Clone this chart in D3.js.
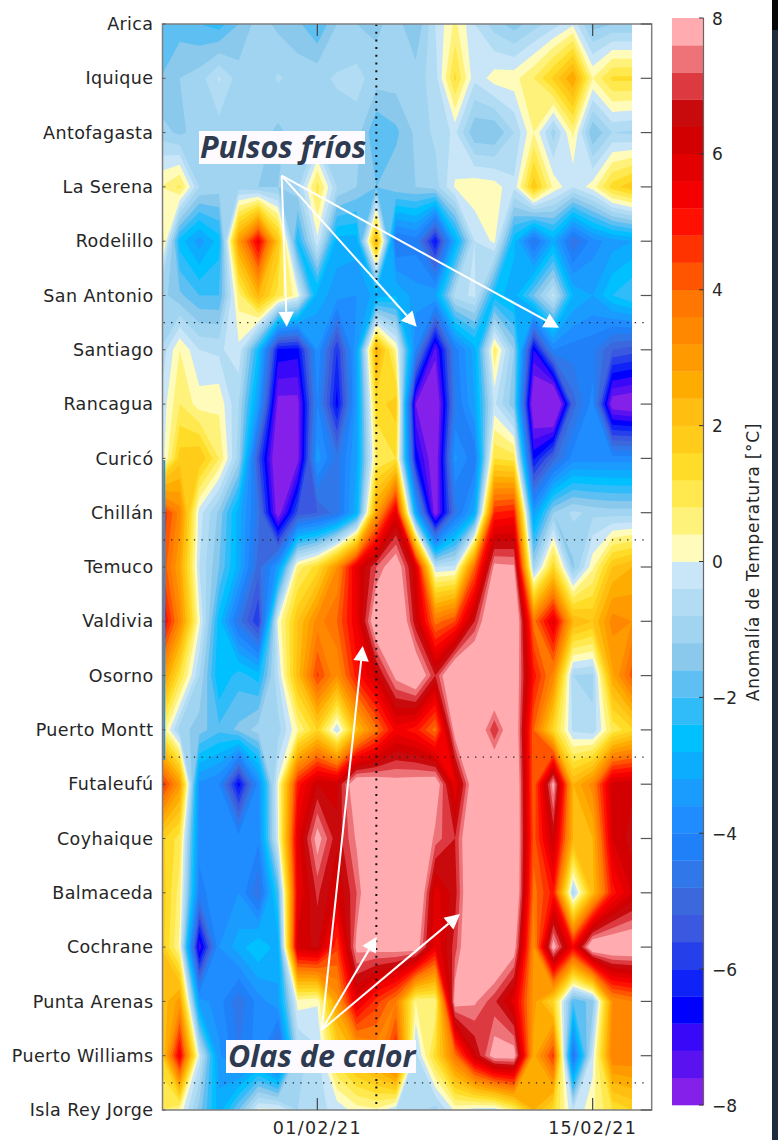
<!DOCTYPE html>
<html>
<head>
<meta charset="utf-8">
<script src="https://cdn.jsdelivr.net/npm/d3@7"></script>
<style>
  html, body { margin: 0; padding: 0; background: #fff; }
  svg { display: block; }
  text { font-family: "DejaVu Sans", sans-serif; fill: #262626; }
  .note { font-family: "Open Sans", sans-serif; font-weight: 700; font-style: italic; fill: #2d3a50; }
</style>
</head>
<body>
<svg id="chart" width="778" height="1140"></svg>
<script>
var stations = ["Arica", "Iquique", "Antofagasta", "La Serena", "Rodelillo", "San Antonio", "Santiago",
  "Rancagua", "Curicó", "Chillán", "Temuco", "Valdivia", "Osorno", "Puerto Montt", "Futaleufú",
  "Coyhaique", "Balmaceda", "Cochrane", "Punta Arenas", "Puerto Williams", "Isla Rey Jorge"];

var firstDay = new Date(2021, 0, 24);
var lastDay = new Date(2021, 1, 17);
var tickDays = [new Date(2021, 1, 1), new Date(2021, 1, 15)];
var tickLabels = ["01/02/21", "15/02/21"];
var barTicks = [-8, -6, -4, -2, 0, 2, 4, 6, 8];
var zoneBreaks = [5.5, 9.5, 13.5, 19.5]; //between stations
var eventDay = new Date(2021, 1, 4);

// one value per day, 24/01 to 17/02
var arica =      [-2, -1.8, -2, -2.2, -1.6, -1, -1.3, -1.5, -2, -1.2, -1.2, -1.3, -1, -1.6, -0.4, 0.5, -0.4, -1, -1.4, -1, -0.6, -0.1, -1.4, -1.2, -1.2];
var iquique =    [-1.6, -1.2, -1, -0.35, -1, -1.1, -0.75, -0.95, -0.9, -0.75, -0.65, -1, -1, -1, -0.6, 1.3, -0.3, 0.2, 0.25, 0.8, 1.7, 2.8, 0.4, 1.3, 1.3];
var antofagasta = [-1, -1.3, -1, -1, -1, -1, -1.3, -1, -1, -1, -1, -2, -1.7, -1.1, -0.7, -0.3, -1.55, -1.6, -0.8, 0.4, -1, 0.5, -1.6, -0.8, -0.9];
var laSerena =   [0.4, 0.9, -0.8, -1, -1, -1.2, -1.2, -0.9, 1, -0.8, -1.2, -1.6, -1.3, -1.2, -1, 0.05, 0.3, 0.2, -0.3, 1.9, 0.3, -0.35, 0.2, 1.4, 1.9];
var rodelillo =  [1.2, -2.6, -3.4, -2.6, 3, 5.5, 2, -2.5, -0.1, -3, -3, 2.6, -4.5, -4.2, -6.5, -3, -0.4, 0.1, -2.7, -4.6, -3, -4.8, -3.8, -3.4, -3.2];
var sanAntonio = [-1, -1.5, -2, -2, 0.6, 2.4, 1, 0.2, -3, -3.4, -3.6, -3, -2.8, -3.4, -3.2, -0.6, -0.3, -2.6, -3, -1.6, -0.3, -2.8, -3.2, -2.4, -2];
var santiago =   [-0.8, 0.4, -0.4, -0.5, -0.1, -2.5, -6.5, -6.6, -3.6, -6, -3.2, 2.6, 0.4, -4, -7.4, -4.2, -3, 0.7, -1.2, -6.8, -4, -4.2, -4.3, -5.2, -5.4];
var rancagua =   [-0.4, 0.8, 0.2, 0.3, -0.8, -3.4, -7.8, -7.8, -4, -6.6, -3.3, 1.4, 1.8, -7.6, -8.5, -4.4, -3.2, -0.3, -1.5, -8.5, -9.5, -5, -3.8, -8, -8.2];
var curico =     [-0.5, 1.8, 2, 0.8, -1, -5.5, -8.5, -7.8, -3.4, -4.6, -3.2, 0.8, 1.2, -6.5, -8.2, -3.5, -4.3, 1.2, 1, -6.5, -5, -3.8, -3.8, -3.8, -3.8];
var chillan =    [5, 3.4, -0.2, -1.3, -3, -4.6, -8, -5.5, -5.2, -4.6, -2.9, 2.9, 5.8, -3, -8, -4.6, -3, 4.8, 5, -3.4, -1.2, -0.7, -0.9, -1, -1];
var temuco =     [4.6, 2.8, -0.4, -1.6, -3, -5, -3.4, 0.6, 1.4, 3.2, 5.8, 7.2, 8.2, 6, -0.4, -0.3, 4, 7.8, 7.7, -1, 1.5, -1.3, 0.3, 2, 2.4];
var valdivia =   [5.8, 3.4, 0.1, -2.6, -4.6, -6, 0.1, 2, 3.4, 4, 5.6, 8.4, 9, 6.5, 3.8, 4.4, 6.8, 9, 9, 3.8, 5.8, 2.4, 2, 3.4, 3.2];
var osorno =     [3.5, 1.2, -0.8, -2.8, -2.2, -2.6, -0.4, 2.2, 4.5, 3.2, 5, 6.2, 7.8, 8.5, 6.8, 9, 9, 9, 8.5, 5, 3.4, -0.8, -0.9, 2.7, 4.2];
var puertoMontt = [1, -1, -1.4, -1.9, -1.5, -1, -1, 0.4, 1.6, -0.4, 2.2, 3.8, 5.4, 5, 3.8, 8, 8.6, 6.8, 8.6, 4, 1.5, -0.5, -0.7, 0.9, 1.5];
var futaleufu =  [5, 3, -3.7, -4, -6.6, -3.8, 0.1, 5, 6.4, 6.3, 8.4, 8.2, 7.9, 8, 8.2, 5.6, 8.4, 9, 9, 4, 7.9, 2.4, 3.4, 6.2, 6.3];
var coyhaique =  [1.8, 1, -3.8, -3.8, -3.8, -3.9, 0, 5.8, 7.9, 6.5, 7.7, 9, 9, 9, 7.4, 6.8, 9, 9, 9, 4.2, 6.4, 2.4, 2.4, 6, 6.6];
var balmaceda =  [2, 0.6, -4.2, -3.6, -3.6, -4.8, -2, 5.6, 6.9, 6, 7.2, 9, 9, 9, 5.8, 6.6, 9, 9, 9, 3.8, 5, -0.8, 2.2, 5, 6];
var cochrane =   [2, 0.3, -7.2, -3.6, -3, -2.4, -3, 6.2, 6.5, 4.5, 7.8, 7.9, 8, 8.1, 5.6, 7, 9, 9, 8, 3.2, 8, 5.3, 8.5, 8.4, 8.4];
var puntaArenas = [2, 3, -3.4, -3.8, -4.7, -3.8, -3.3, 0.2, 0.05, 3, 5.8, 4.6, 3.6, 0.4, 0.5, 8, 7.7, 6.9, 5.8, 3, 1.5, -2, -1.4, 3.2, 3.6];
var ptoWilliams = [1.4, 5.6, -0.2, -3.5, -4.4, -3.8, -5.4, -1, -0.5, 1.5, 2.5, 3.2, 5, -0.6, 1.4, 3.8, 6.3, 8, 8, 2.6, 4.6, -4.6, -0.2, 3.6, 3.6];
var reyJorge =   [0.8, 0.3, -1.4, -3, -1.6, 0.1, 0.1, -0.8, -0.5, -0.3, 0.2, 0.3, -0.4, -0.6, -1, 0.1, -0.2, -0.3, 0.7, 2.4, 1.4, -0.4, 0.3, 1.2, 1.6];

var rows = [arica, iquique, antofagasta, laSerena, rodelillo, sanAntonio, santiago, rancagua, curico, chillan,
  temuco, valdivia, osorno, puertoMontt, futaleufu, coyhaique, balmaceda, cochrane, puntaArenas, ptoWilliams, reyJorge];

//colour of each 0.4 band, from -8 up to 8
var bandColors = ["#8420ea", "#5a12f0", "#3a08f8", "#0000ff", "#0f22f8", "#2540ea", "#3a58e0", "#3c68de", "#3078ea", "#2080f8",
  "#1f8cff", "#1a9cff", "#0cacff", "#00c0ff", "#30bcf8", "#5ec0f2", "#8ac8ec", "#a0d4f0", "#b2dcf3", "#c8e6f7",
  "#fffbbb", "#fff27a", "#ffe94f", "#ffdc28", "#ffcc1a", "#ffbe10", "#ffac00", "#ff9a00", "#ff8800", "#ff7700",
  "#ff5500", "#ff3300", "#ff1000", "#f50000", "#e30000", "#d20000", "#c80a0c", "#dc3a40", "#ee7378", "#ffabb0"];

var svg = d3.select("#chart");

var nCols = arica.length;
var nRows = rows.length;

var x = d3.scaleTime().domain([firstDay, lastDay]).range([160, 632]);
var xIndex = d3.scaleLinear().domain([0, nCols - 1]).range([160, 632]);
var y = d3.scaleLinear().domain([0, nRows - 1]).range([24, 1110]);
var barY = d3.scaleLinear().domain([-8, 8]).range([1105, 18]);

var left = 162.5, right = 651.7, dataRight = 632, top_ = 24, bottom = 1110;

svg.append("defs").append("clipPath").attr("id", "dataClip")
  .append("rect")
  .attr("x", left).attr("y", top_)
  .attr("width", dataRight - left).attr("height", bottom - top_);

// contours
var flat = [];
rows.forEach(function(r){ r.forEach(function(v){ flat.push(v); }); });

var thresholds = bandColors.map(function(c, i){ return -8 + i * 0.4; }).slice(1);
var contours = d3.contours().size([nCols, nRows]).smooth(true).thresholds(thresholds)(flat);

//d3 puts grid values on i+0.5
var toPixels = d3.geoTransform({
  point: function(gx, gy){
    this.stream.point(xIndex(gx - 0.5), y(gy - 0.5));
  }
});
var path = d3.geoPath(toPixels);

var field = svg.append("g").attr("clip-path", "url(#dataClip)");
field.append("rect")
  .attr("x", left).attr("y", top_)
  .attr("width", dataRight - left).attr("height", bottom - top_)
  .attr("fill", bandColors[0]);
field.selectAll("path")
  .data(contours)
  .enter()
  .append("path")
  .attr("d", path)
  .attr("fill", function(d, i){ return bandColors[i + 1]; });

//thin blue sliver on the left edge of the field
svg.append("line")
  .attr("x1", 164.2).attr("x2", 164.2)
  .attr("y1", 460).attr("y2", 760)
  .attr("stroke", "#2a8fe0")
  .attr("stroke-width", 2);

// dotted lines
svg.selectAll("line.zone")
  .data(zoneBreaks)
  .enter()
  .append("line")
  .attr("class", "zone")
  .attr("x1", left + 1).attr("x2", 647)
  .attr("y1", function(d){ return y(d); })
  .attr("y2", function(d){ return y(d); })
  .attr("stroke", "#222")
  .attr("stroke-width", 1.2)
  .attr("stroke-dasharray", "1.3 6.3");

svg.append("line")
  .attr("x1", x(eventDay)).attr("x2", x(eventDay))
  .attr("y1", top_).attr("y2", bottom)
  .attr("stroke", "#111")
  .attr("stroke-width", 2)
  .attr("stroke-dasharray", "2 5.7");

// axes box
svg.append("rect")
  .attr("x", left).attr("y", top_)
  .attr("width", right - left).attr("height", bottom - top_)
  .attr("fill", "none")
  .attr("stroke", "#7f7f7f")
  .attr("stroke-width", 1.5);

var axisLeft = d3.axisLeft(y).tickValues(d3.range(nRows)).tickFormat(function(d){ return stations[d]; }).tickSize(0).tickPadding(9);
var gy = svg.append("g").attr("transform", "translate(" + left + ",0)").call(axisLeft);
gy.select(".domain").remove();
gy.selectAll("text")
  .style("font-size", "17.5px")
  .style("letter-spacing", "0.4px")
  .style("font-family", "'DejaVu Sans'")
  .attr("fill", "#262626");

//ticks on the sides
svg.selectAll("line.tickL")
  .data(d3.range(nRows))
  .enter()
  .append("line")
  .attr("x1", left).attr("x2", left + 3)
  .attr("y1", function(d){ return y(d); }).attr("y2", function(d){ return y(d); })
  .attr("stroke", "#555");
svg.selectAll("line.tickR")
  .data(d3.range(nRows))
  .enter()
  .append("line")
  .attr("x1", right - 11).attr("x2", right)
  .attr("y1", function(d){ return y(d); }).attr("y2", function(d){ return y(d); })
  .attr("stroke", "#555")
  .attr("stroke-width", 1.2);

tickDays.forEach(function(d, i){
  svg.append("line").attr("x1", x(d)).attr("x2", x(d)).attr("y1", top_).attr("y2", top_ + 12).attr("stroke", "#444").attr("stroke-width", 1.2);
  svg.append("line").attr("x1", x(d)).attr("x2", x(d)).attr("y1", bottom - 12).attr("y2", bottom).attr("stroke", "#444").attr("stroke-width", 1.2);
  svg.append("text")
    .attr("x", x(d)).attr("y", 1134)
    .attr("text-anchor", "middle")
    .style("font-size", "17.5px")
    .style("letter-spacing", "1.3px")
    .text(tickLabels[i]);
});

// colorbar
svg.selectAll("rect.band")
  .data(bandColors)
  .enter()
  .append("rect")
  .attr("class", "band")
  .attr("x", 672).attr("width", 31.5)
  .attr("y", function(d, i){ return barY(-8 + (i + 1) * 0.4); })
  .attr("height", function(d, i){ return barY(-8 + i * 0.4) - barY(-8 + (i + 1) * 0.4) + 0.3; })
  .attr("fill", function(d){ return d; });

svg.append("line")
  .attr("x1", 703.5).attr("x2", 703.5)
  .attr("y1", barY(8)).attr("y2", barY(-8))
  .attr("stroke", "#666").attr("stroke-width", 1.2);

svg.selectAll("line.barTick")
  .data(barTicks)
  .enter()
  .append("line")
  .attr("x1", 699).attr("x2", 703.5)
  .attr("y1", function(d){ return barY(d); }).attr("y2", function(d){ return barY(d); })
  .attr("stroke", "#333");

svg.selectAll("text.barLabel")
  .data(barTicks)
  .enter()
  .append("text")
  .attr("x", 712)
  .attr("y", function(d){ return barY(d) + 6.5; })
  .style("font-size", "17px")
  .text(function(d){ return d < 0 ? "\u2212" + Math.abs(d) : d; });

svg.append("text")
  .attr("transform", "translate(759,562) rotate(-90)")
  .attr("text-anchor", "middle")
  .style("font-size", "17px")
  .style("letter-spacing", "0.7px")
  .text("Anomalía de Temperatura [°C]");

// annotations
function arrow(x1, y1, x2, y2){
  var a = Math.atan2(y2 - y1, x2 - x1);
  var len = 15, half = 7.7;
  var bx = x2 - len * Math.cos(a), by = y2 - len * Math.sin(a);
  svg.append("line")
    .attr("x1", x1).attr("y1", y1).attr("x2", bx).attr("y2", by)
    .attr("stroke", "#fff").attr("stroke-width", 2);
  svg.append("polygon")
    .attr("points", [[x2, y2],
      [bx - half * Math.sin(a), by + half * Math.cos(a)],
      [bx + half * Math.sin(a), by - half * Math.cos(a)]].join(" "))
    .attr("fill", "#fff");
}

arrow(281.7, 175.7, 286.7, 326.7);
arrow(281.7, 175.7, 416.7, 326.7);
arrow(281.7, 175.7, 559, 327.7);
arrow(321.7, 1030, 362.7, 646);
arrow(321.7, 1030, 376.7, 936.7);
arrow(321.7, 1030, 460, 914);

svg.append("rect").attr("x", 199).attr("y", 131).attr("width", 166).attr("height", 33).attr("fill", "#fdfbff");
svg.append("text").attr("class", "note").attr("x", 200).attr("y", 158).style("font-size", "30.5px").text("Pulsos fríos");

svg.append("rect").attr("x", 226).attr("y", 1040).attr("width", 190).attr("height", 33).attr("fill", "#fdfbff");
svg.append("text").attr("class", "note").attr("x", 228).attr("y", 1067).style("font-size", "30.5px").text("Olas de calor");

//dark edge of the screenshot
svg.append("rect").attr("x", 772).attr("y", 0).attr("width", 6).attr("height", 30).attr("fill", "#050608");
svg.append("rect").attr("x", 772).attr("y", 30).attr("width", 6).attr("height", 1110).attr("fill", "#1f2c3d");
</script>
</body>
</html>
